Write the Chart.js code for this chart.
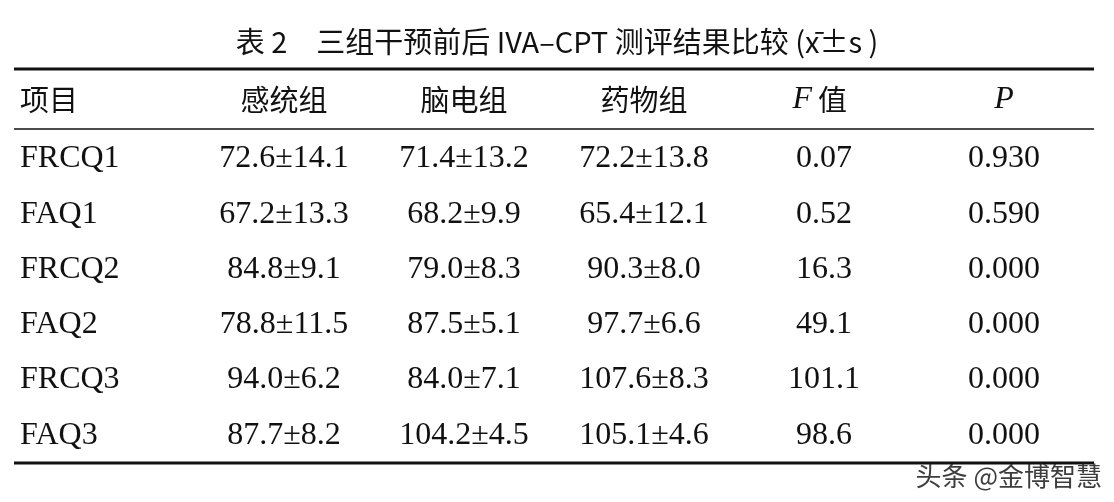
<!DOCTYPE html>
<html>
<head>
<meta charset="utf-8">
<script src="https://cdn.jsdelivr.net/npm/chart.js@4"></script>
<style>
  body { margin: 0; background: #fff; }
  #wrap { width: 1114px; height: 502px; }
</style>
</head>
<body>
<div id="wrap"><canvas id="tbl" width="1114" height="502"></canvas></div>
<script>
// 表格数据
const titleText = "表 2　三组干预前后 IVA–CPT 测评结果比较 (x̄±s )";
const headers = ["项目", "感统组", "脑电组", "药物组", "F 值", "P"];
const items = ["FRCQ1", "FAQ1", "FRCQ2", "FAQ2", "FRCQ3", "FAQ3"];
const gantong = ["72.6±14.1", "67.2±13.3", "84.8±9.1", "78.8±11.5", "94.0±6.2", "87.7±8.2"];
const naodian = ["71.4±13.2", "68.2±9.9", "79.0±8.3", "87.5±5.1", "84.0±7.1", "104.2±4.5"];
const yaowu = ["72.2±13.8", "65.4±12.1", "90.3±8.0", "97.7±6.6", "107.6±8.3", "105.1±4.6"];
const fVals = ["0.07", "0.52", "16.3", "49.1", "101.1", "98.6"];
const pVals = ["0.930", "0.590", "0.000", "0.000", "0.000", "0.000"];
const watermark = "头条 @金博智慧";

const rowLabels = ["header"].concat(items);
const columns = [items, gantong, naodian, yaowu, fVals, pVals];

const SERIF = '"Liberation Serif", "DejaVu Serif", serif';
const CJK = '"Noto Sans CJK SC", sans-serif';

const tablePlugin = {
    id: "tablePlugin",
    afterDraw(chart) {
        const ctx = chart.ctx;
        const xs = chart.scales.x, ys = chart.scales.y;
        const a = chart.chartArea;
        ctx.save();
        ctx.fillStyle = "#111";
        ctx.textBaseline = "middle";

        // 标题
        ctx.textAlign = "center";
        ctx.font = "29px " + CJK;
        ctx.fillText(titleText, chart.width / 2, 42);

        // 横线
        ctx.strokeStyle = "#111";
        ctx.lineWidth = 3;
        ctx.beginPath(); ctx.moveTo(a.left, 69); ctx.lineTo(a.right, 69); ctx.stroke();
        ctx.beginPath(); ctx.moveTo(a.left, a.bottom); ctx.lineTo(a.right, a.bottom); ctx.stroke();
        ctx.lineWidth = 1.5;
        ctx.beginPath(); ctx.moveTo(a.left, 129); ctx.lineTo(a.right, 129); ctx.stroke();

        // 表头
        headers.forEach((h, i) => {
            const y = ys.getPixelForValue(0) - 4;
            if (i === 0) {
                ctx.textAlign = "left";
                ctx.font = "29px " + CJK;
                ctx.fillText(h, a.left + 6, y);
            } else if (i === 4) {
                ctx.textAlign = "right";
                ctx.font = "italic 32px " + SERIF;
                const cx = xs.getPixelForValue(i);
                ctx.fillText("F", cx - 12, y);
                ctx.textAlign = "left";
                ctx.font = "29px " + CJK;
                ctx.fillText("值", cx - 6, y);
            } else if (i === 5) {
                ctx.textAlign = "center";
                ctx.font = "italic 32px " + SERIF;
                ctx.fillText(h, xs.getPixelForValue(i), y);
            } else {
                ctx.textAlign = "center";
                ctx.font = "29px " + CJK;
                ctx.fillText(h, xs.getPixelForValue(i), y);
            }
        });

        // 数据
        ctx.font = "32px " + SERIF;
        columns.forEach((col, i) => {
            col.forEach((v, j) => {
                const y = ys.getPixelForValue(j + 1);
                if (i === 0) {
                    ctx.textAlign = "left";
                    ctx.fillText(v, a.left + 6, y);
                } else {
                    ctx.textAlign = "center";
                    ctx.fillText(v, xs.getPixelForValue(i), y);
                }
            });
        });

        // 水印
        ctx.textAlign = "right";
        ctx.font = "26px " + CJK;
        ctx.fillStyle = "rgba(40,40,40,0.9)";
        ctx.fillText(watermark, chart.width - 12, 476);
        ctx.restore();
    }
};

new Chart(document.getElementById("tbl").getContext("2d"), {
    type: "scatter",
    data: { datasets: [{ data: [], pointRadius: 0 }] },
    options: {
        responsive: false,
        animation: false,
        layout: { padding: { top: 76, left: 14, right: 20, bottom: 39 } },
        plugins: { legend: { display: false }, tooltip: { enabled: false } },
        scales: {
            x: { type: "category", labels: headers, offset: true, display: false },
            y: { type: "category", labels: rowLabels, offset: true, display: false }
        }
    },
    plugins: [tablePlugin]
});
</script>
</body>
</html>
